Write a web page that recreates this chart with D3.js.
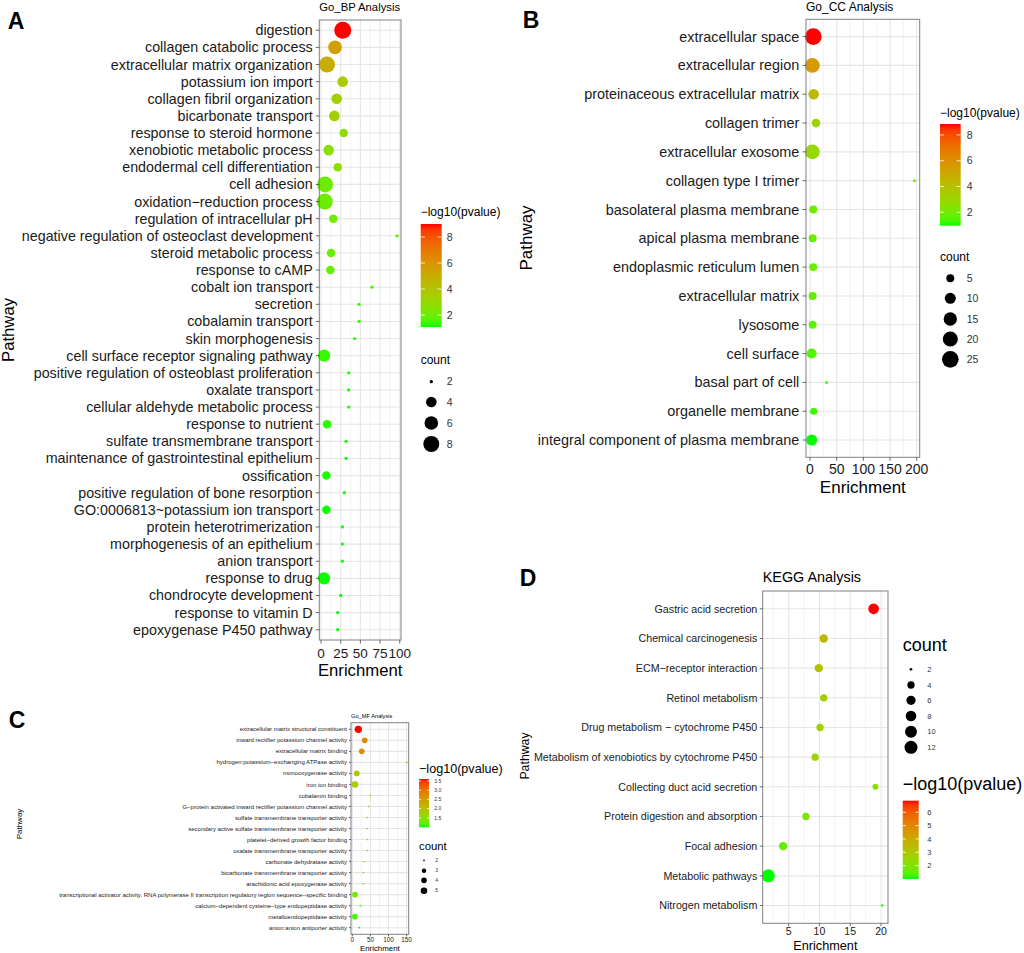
<!DOCTYPE html>
<html>
<head>
<meta charset="utf-8">
<script src="https://cdn.jsdelivr.net/npm/d3@7"></script>
<style>
body { margin: 0; background: #fff; }
svg { font-family: "Liberation Sans", Arial, sans-serif; }
</style>
</head>
<body>
<div id="fig"></div>
<script>
// ---- A: GO biological process
var bpTerms = ["digestion", "collagen catabolic process", "extracellular matrix organization", "potassium ion import",
  "collagen fibril organization", "bicarbonate transport", "response to steroid hormone", "xenobiotic metabolic process",
  "endodermal cell differentiation", "cell adhesion", "oxidation−reduction process", "regulation of intracellular pH",
  "negative regulation of osteoclast development", "steroid metabolic process", "response to cAMP", "cobalt ion transport",
  "secretion", "cobalamin transport", "skin morphogenesis", "cell surface receptor signaling pathway",
  "positive regulation of osteoblast proliferation", "oxalate transport", "cellular aldehyde metabolic process",
  "response to nutrient", "sulfate transmembrane transport", "maintenance of gastrointestinal epithelium", "ossification",
  "positive regulation of bone resorption", "GO:0006813~potassium ion transport", "protein heterotrimerization",
  "morphogenesis of an epithelium", "anion transport", "response to drug", "chondrocyte development",
  "response to vitamin D", "epoxygenase P450 pathway"];
var bpEnrich = [27.6, 17.8, 7.6, 27.5, 19.9, 16.9, 28.8, 9.7, 21.2, 5.1, 4.7, 15.6, 96.6, 12.7, 11.9, 64.8,
  48.3, 48.3, 42.8, 3.8, 35.2, 35.2, 35.2, 7.6, 31.8, 31.8, 6.8, 29.6, 6.8, 27.1, 27.1, 27.1, 3.8, 25.0, 21.2, 21.2];
var bpCount = [9, 6, 8, 4, 4, 4, 3, 4, 3, 8, 8, 3, 2, 3, 3, 2, 2, 2, 2, 5, 2, 2, 2, 3, 2, 2, 3, 2, 3, 2, 2, 2, 5, 2, 2, 2];
var bpLogP = [9.0, 5.5, 5.0, 3.6, 3.4, 3.4, 2.8, 2.7, 2.6, 2.0, 2.0, 2.1, 1.6, 1.9, 1.8, 1.4,
  1.3, 1.3, 1.25, 1.3, 1.15, 1.15, 1.15, 1.2, 1.12, 1.12, 1.15, 1.1, 1.1, 1.1, 1.1, 1.1, 1.1, 1.08, 1.08, 1.08];

// ---- B: GO cellular component
var ccTerms = ["extracellular space", "extracellular region", "proteinaceous extracellular matrix", "collagen trimer",
  "extracellular exosome", "collagen type I trimer", "basolateral plasma membrane", "apical plasma membrane",
  "endoplasmic reticulum lumen", "extracellular matrix", "lysosome", "cell surface", "basal part of cell",
  "organelle membrane", "integral component of plasma membrane"];
var ccEnrich = [6.2, 4.4, 6.9, 11.2, 4.4, 196, 6.2, 5.0, 6.0, 5.0, 5.0, 3.1, 31.2, 6.9, 3.1];
var ccCount = [25, 19, 9, 6, 19, 2, 5, 5, 5, 5, 5, 8, 2, 4, 10];
var ccLogP = [8.85, 5.6, 4.3, 3.1, 2.9, 2.0, 1.9, 1.8, 1.8, 1.7, 1.6, 1.5, 1.3, 1.2, 0.96];

// ---- C: GO molecular function
var mfTerms = ["extracellular matrix structural constituent", "inward rectifier potassium channel activity",
  "extracellular matrix binding", "hydrogen:potassium−exchanging ATPase activity", "monooxygenase activity",
  "iron ion binding", "cobalamin binding", "G−protein activated inward rectifier potassium channel activity",
  "sulfate transmembrane transporter activity", "secondary active sulfate transmembrane transporter activity",
  "platelet−derived growth factor binding", "oxalate transmembrane transporter activity",
  "carbonate dehydratase activity", "bicarbonate transmembrane transporter activity",
  "arachidonic acid epoxygenase activity",
  "transcriptional activator activity, RNA polymerase II transcription regulatory region sequence−specific binding",
  "calcium−dependent cysteine−type endopeptidase activity", "metalloendopeptidase activity",
  "anion:anion antiporter activity"];
var mfEnrich = [16.6, 34.3, 26, 150, 12.2, 7.5, 49.8, 45.3, 41.5, 41.5, 41.5, 41.5, 32.3, 30.4, 30.4, 7.5, 22.1, 7, 19.3];
var mfCount = [6, 4, 4, 2, 4, 5, 2, 2, 2, 2, 2, 2, 2, 2, 2, 4, 2, 4, 2];
var mfLogP = [3.61, 2.8, 2.7, 1.9, 2.0, 1.8, 1.6, 1.55, 1.5, 1.5, 1.5, 1.5, 1.4, 1.35, 1.35, 1.3, 1.2, 1.1, 0.98];

// ---- D: KEGG
var keggTerms = ["Gastric acid secretion", "Chemical carcinogenesis", "ECM−receptor interaction", "Retinol metabolism",
  "Drug metabolism − cytochrome P450", "Metabolism of xenobiotics by cytochrome P450", "Collecting duct acid secretion",
  "Protein digestion and absorption", "Focal adhesion", "Metabolic pathways", "Nitrogen metabolism"];
var keggEnrich = [18.8, 10.7, 9.9, 10.7, 10.1, 9.3, 19.1, 7.8, 4.1, 1.7, 20.2];
var keggCount = [8, 5, 5, 4, 4, 4, 3, 4, 5, 12, 2];
var keggLogP = [6.87, 3.6, 3.2, 2.8, 2.7, 2.6, 2.2, 2.0, 1.6, 1.0, 1.2];

// axis ticks and legend breaks
var bpTicks = [0, 25, 50, 75, 100], ccTicks = [0, 50, 100, 150, 200], mfTicks = [0, 50, 100, 150], keggTicks = [5, 10, 15, 20];
var bpSizeBreaks = [2, 4, 6, 8], ccSizeBreaks = [5, 10, 15, 20, 25], mfSizeBreaks = [2, 3, 4, 5], keggSizeBreaks = [2, 4, 6, 8, 10, 12];
var bpColBreaks = [2, 4, 6, 8], ccColBreaks = [2, 4, 6, 8], mfColBreaks = [1.5, 2.0, 2.5, 3.0, 3.5], keggColBreaks = [2, 3, 4, 5, 6];

var svg = d3.select("#fig").append("svg")
  .attr("width", 1024)
  .attr("height", 953);

var defs = svg.append("defs");

function drawPanel(p) {
  var g = svg.append("g");
  var x = d3.scaleLinear().domain(p.xDom).range([p.left, p.right]);
  var y = d3.scalePoint().domain(p.terms).range([p.top, p.bottom]).padding(0.6);
  var col = d3.scaleSequential(d3.interpolateLab("#00ff00", "#ff0000")).domain(d3.extent(p.logp));
  var rs = d3.scaleLinear().domain([0, Math.sqrt(p.cMax - p.cMin)]).range([p.dMin / 2, p.dMax / 2]);
  var r = function(c) { return rs(Math.sqrt(c - p.cMin)); };

  // grid
  var minor = [];
  for (var i = 0; i < p.ticks.length - 1; i++) minor.push((p.ticks[i] + p.ticks[i + 1]) / 2);
  if (p.extraMinor) minor = minor.concat(p.extraMinor);
  g.selectAll(".minor").data(minor).enter().append("line")
    .attr("x1", d => x(d)).attr("x2", d => x(d))
    .attr("y1", p.top).attr("y2", p.bottom)
    .style("stroke", "#f0f0f0").style("stroke-width", 0.8);
  g.selectAll(".vmaj").data(p.ticks).enter().append("line")
    .attr("x1", d => x(d)).attr("x2", d => x(d))
    .attr("y1", p.top).attr("y2", p.bottom)
    .style("stroke", "#e6e6e6").style("stroke-width", 1.1);
  g.selectAll(".hmaj").data(p.terms).enter().append("line")
    .attr("x1", p.left).attr("x2", p.right)
    .attr("y1", d => y(d)).attr("y2", d => y(d))
    .style("stroke", "#e6e6e6").style("stroke-width", 1.1);

  // points
  var rows = p.terms.map(function(t, i) {
    return {term: t, e: p.enrich[i], c: p.count[i], lp: p.logp[i]};
  });
  g.selectAll("circle.pt").data(rows).enter().append("circle")
    .attr("cx", d => x(d.e))
    .attr("cy", d => y(d.term))
    .attr("r", d => r(d.c))
    .attr("fill", d => col(d.lp));

  g.append("rect")
    .attr("x", p.left).attr("y", p.top)
    .attr("width", p.right - p.left).attr("height", p.bottom - p.top)
    .attr("fill", "none").style("stroke", "#808080").style("stroke-width", 1);

  // y axis
  g.selectAll(".ytick").data(p.terms).enter().append("line")
    .attr("x1", p.left - p.tickLen).attr("x2", p.left)
    .attr("y1", d => y(d)).attr("y2", d => y(d))
    .style("stroke", "#444").style("stroke-width", 0.8);
  g.selectAll(".ylab").data(p.terms).enter().append("text")
    .attr("x", p.left - p.tickLen - p.gap)
    .attr("y", d => y(d))
    .attr("dy", "0.35em")
    .attr("text-anchor", "end")
    .style("font-size", p.yFont + "px")
    .style("fill", "#1a1a1a")
    .text(d => d);

  // x axis
  g.selectAll(".xtick").data(p.ticks).enter().append("line")
    .attr("x1", d => x(d)).attr("x2", d => x(d))
    .attr("y1", p.bottom).attr("y2", p.bottom + p.tickLen)
    .style("stroke", "#444").style("stroke-width", 0.8);
  g.selectAll(".xlab").data(p.ticks).enter().append("text")
    .attr("x", d => x(d))
    .attr("y", p.tickY)
    .attr("text-anchor", "middle")
    .style("font-size", p.tickFont + "px")
    .style("fill", "#1a1a1a")
    .text(d => d);

  g.append("text")
    .attr("x", (p.left + p.right) / 2).attr("y", p.xTitleY)
    .attr("text-anchor", "middle")
    .style("font-size", p.xTitleFont + "px")
    .text("Enrichment");
  g.append("text")
    .attr("transform", "translate(" + p.yTitleX + "," + p.yTitleY + ") rotate(-90)")
    .attr("text-anchor", "middle")
    .style("font-size", p.yTitleFont + "px")
    .text("Pathway");
  g.append("text")
    .attr("x", p.left).attr("y", p.titleY)
    .style("font-size", p.titleFont + "px")
    .text(p.title);
  g.append("text")
    .attr("x", p.letterX).attr("y", p.letterY)
    .attr("text-anchor", "middle")
    .style("font-size", "23px").style("font-weight", "bold")
    .text(p.letter);

  // colour legend
  var cl = p.colLeg;
  var ext = d3.extent(p.logp);
  var gid = "grad" + p.letter;
  var grad = defs.append("linearGradient").attr("id", gid)
    .attr("x1", 0).attr("y1", 1).attr("x2", 0).attr("y2", 0);
  d3.range(0, 1.0001, 0.05).forEach(function(t) {
    grad.append("stop").attr("offset", t).attr("stop-color", col(ext[0] + t * (ext[1] - ext[0])));
  });
  g.append("text")
    .attr("x", cl.x).attr("y", cl.titleY)
    .style("font-size", cl.titleFont + "px")
    .text("−log10(pvalue)");
  g.append("rect")
    .attr("x", cl.x).attr("y", cl.y)
    .attr("width", cl.w).attr("height", cl.h)
    .attr("fill", "url(#" + gid + ")");
  var cy = d3.scaleLinear().domain(ext).range([cl.y + cl.h, cl.y]);
  var tw = cl.w / 5;
  cl.breaks.forEach(function(b) {
    g.append("line").attr("x1", cl.x).attr("x2", cl.x + tw)
      .attr("y1", cy(b)).attr("y2", cy(b)).style("stroke", "#fff").style("stroke-width", 0.8);
    g.append("line").attr("x1", cl.x + cl.w - tw).attr("x2", cl.x + cl.w)
      .attr("y1", cy(b)).attr("y2", cy(b)).style("stroke", "#fff").style("stroke-width", 0.8);
  });
  g.selectAll(".clab").data(cl.breaks).enter().append("text")
    .attr("x", cl.labX).attr("y", d => cy(d))
    .attr("dy", "0.35em")
    .style("font-size", cl.labFont + "px")
    .style("fill", "#333")
    .text(d => cl.fmt ? d3.format(cl.fmt)(d) : d);

  // size legend
  var sl = p.sizeLeg;
  g.append("text")
    .attr("x", sl.titleX).attr("y", sl.titleY)
    .style("font-size", sl.titleFont + "px")
    .text("count");
  g.selectAll(".scirc").data(sl.breaks).enter().append("circle")
    .attr("cx", sl.cx)
    .attr("cy", (d, i) => sl.cys[i])
    .attr("r", d => r(d))
    .attr("fill", "#000");
  g.selectAll(".slab").data(sl.breaks).enter().append("text")
    .attr("x", sl.labX)
    .attr("y", (d, i) => sl.cys[i])
    .attr("dy", "0.35em")
    .style("font-size", sl.labFont + "px")
    .style("fill", "#333")
    .text(d => d);
}

drawPanel({
  letter: "A", letterX: 16, letterY: 29,
  terms: bpTerms, enrich: bpEnrich, count: bpCount, logp: bpLogP,
  left: 319.3, right: 401, top: 20, bottom: 640, xDom: [-2.2, 101.6], ticks: bpTicks,
  cMin: 2, cMax: 9, dMin: 3.3, dMax: 17,
  tickLen: 3.5, gap: 3.1, yFont: 14.3, tickFont: 13.5, tickY: 657.5,
  title: "Go_BP Analysis", titleFont: 11.3, titleY: 10.8,
  xTitleFont: 16.7, xTitleY: 676, yTitleX: 14, yTitleY: 330, yTitleFont: 16.7,
  colLeg: {x: 420.7, titleY: 216.2, titleFont: 12, y: 224, w: 21, h: 103, breaks: bpColBreaks, labX: 446.7, labFont: 10.5},
  sizeLeg: {titleX: 420.7, titleY: 364.2, titleFont: 12, cx: 431.3, cys: [381.7, 402, 423, 444], breaks: bpSizeBreaks, labX: 446.7, labFont: 10.5}
});

drawPanel({
  letter: "B", letterX: 531, letterY: 28,
  terms: ccTerms, enrich: ccEnrich, count: ccCount, logp: ccLogP,
  left: 806, right: 919.7, top: 19.3, bottom: 457.3, xDom: [-7.5, 205.6], ticks: ccTicks,
  cMin: 2, cMax: 25, dMin: 3, dMax: 16.7,
  tickLen: 3.5, gap: 3.2, yFont: 14.4, tickFont: 14, tickY: 474.3,
  title: "Go_CC Analysis", titleFont: 12, titleY: 11,
  xTitleFont: 17, xTitleY: 492.7, yTitleX: 532, yTitleY: 238, yTitleFont: 17,
  colLeg: {x: 940, titleY: 117.2, titleFont: 12, y: 124, w: 20.7, h: 101.7, breaks: ccColBreaks, labX: 966.7, labFont: 10.5},
  sizeLeg: {titleX: 940, titleY: 260.9, titleFont: 12, cx: 950.3, cys: [278.3, 298.3, 319, 339, 359.3], breaks: ccSizeBreaks, labX: 966.7, labFont: 10.5}
});

drawPanel({
  letter: "C", letterX: 17, letterY: 728,
  terms: mfTerms, enrich: mfEnrich, count: mfCount, logp: mfLogP,
  left: 351, right: 408.7, top: 722.7, bottom: 934.3, xDom: [-3.6, 155.8], ticks: mfTicks,
  cMin: 2, cMax: 6, dMin: 1.7, dMax: 7.3,
  tickLen: 2, gap: 2, yFont: 6, tickFont: 6.3, tickY: 942.2,
  title: "Go_MF Analysis", titleFont: 5.7, titleY: 717.7,
  xTitleFont: 7.9, xTitleY: 951, yTitleX: 22, yTitleY: 824, yTitleFont: 8,
  colLeg: {x: 419, titleY: 772.7, titleFont: 12.6, y: 779, w: 10, h: 48.3, breaks: mfColBreaks, labX: 434.3, labFont: 5, fmt: ".1f"},
  sizeLeg: {titleX: 419, titleY: 849.7, titleFont: 11.3, cx: 424, cys: [860.3, 870.7, 880.3, 890.7], breaks: mfSizeBreaks, labX: 435.3, labFont: 5}
});

drawPanel({
  letter: "D", letterX: 528, letterY: 586,
  terms: keggTerms, enrich: keggEnrich, count: keggCount, logp: keggLogP,
  left: 762.7, right: 888, top: 591, bottom: 923.3, xDom: [0.78, 21.14], ticks: keggTicks, extraMinor: [2.5],
  cMin: 2, cMax: 12, dMin: 2.7, dMax: 13,
  tickLen: 3, gap: 2.4, yFont: 10.7, tickFont: 10.5, tickY: 935.4,
  title: "KEGG Analysis", titleFont: 14.4, titleY: 582.3,
  xTitleFont: 12.7, xTitleY: 950, yTitleX: 529, yTitleY: 756, yTitleFont: 12.3,
  colLeg: {x: 902.7, titleY: 789.6, titleFont: 18, y: 800.7, w: 16, h: 78.3, breaks: keggColBreaks, labX: 927.3, labFont: 7.5},
  sizeLeg: {titleX: 902.7, titleY: 651.3, titleFont: 18, cx: 911, cys: [669.3, 685, 700.3, 716, 731.7, 747.3], breaks: keggSizeBreaks, labX: 927.3, labFont: 7.5}
});
</script>
</body>
</html>
